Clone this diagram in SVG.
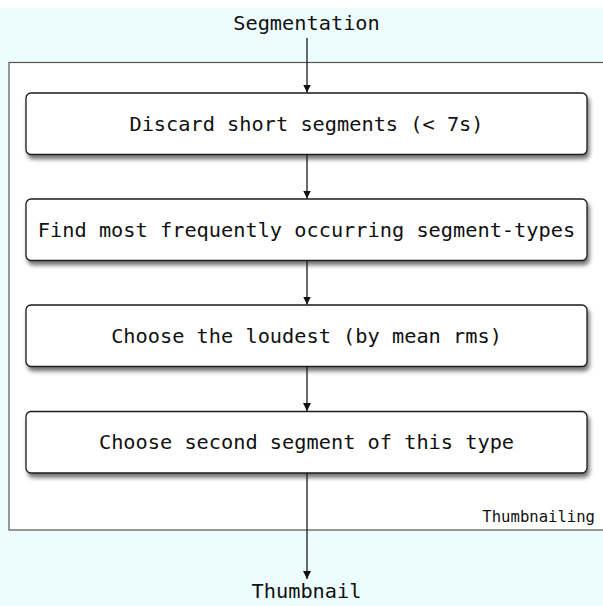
<svg xmlns="http://www.w3.org/2000/svg" width="603" height="606" viewBox="0 0 603 606">
  <style>
    .band { fill: #edfdfe; }
    .frame { fill: #ffffff; stroke: #555555; stroke-width: 1.2; }
    .box { fill: #ffffff; stroke: #1a1a1a; stroke-width: 1.3; }
    .label { font-family: "DejaVu Sans Mono", "Liberation Mono", monospace; font-size: 20.3px; fill: #111111; text-anchor: middle; }
    .small { font-family: "DejaVu Sans Mono", "Liberation Mono", monospace; font-size: 15.6px; fill: #111111; text-anchor: end; }
    .edge { stroke: #1a1a1a; stroke-width: 1.3; fill: none; marker-end: url(#arrow); }
  </style>
  <defs>
    <marker id="arrow" viewBox="0 0 8 10" refX="8" refY="5" markerWidth="8" markerHeight="10" markerUnits="userSpaceOnUse" orient="auto">
      <path d="M0,1 L8,5 L0,9 Z" fill="#111111"/>
    </marker>
    <filter id="shadow" x="-5%" y="-20%" width="112%" height="150%">
      <feGaussianBlur in="SourceAlpha" stdDeviation="2.2"/>
      <feOffset dx="1.5" dy="3.5" result="b"/>
      <feComponentTransfer><feFuncA type="linear" slope="0.55"/></feComponentTransfer>
      <feMerge><feMergeNode/><feMergeNode in="SourceGraphic"/></feMerge>
    </filter>
  </defs>

  <!-- background bands -->
  <rect x="0" y="0" width="603" height="606" fill="#ffffff"/>
  <rect class="band" x="0" y="8" width="603" height="598"/>

  <!-- process frame -->
  <g id="thumbnailing">
    <rect class="frame" x="9" y="62.5" width="600" height="467.5"/>
    <text class="small" x="595" y="522">Thumbnailing</text>
  </g>

  <g id="segmentation">
    <text class="label" x="306.5" y="30">Segmentation</text>
  </g>

  <g id="discard">
    <rect class="box" x="26" y="93" width="561" height="61.5" rx="5" filter="url(#shadow)"/>
    <text class="label" x="306.5" y="131">Discard short segments (&lt; 7s)</text>
  </g>

  <g id="find">
    <rect class="box" x="26" y="199" width="561" height="61.5" rx="5" filter="url(#shadow)"/>
    <text class="label" x="306.5" y="237">Find most frequently occurring segment-types</text>
  </g>

  <g id="loudest">
    <rect class="box" x="26" y="305" width="561" height="61.5" rx="5" filter="url(#shadow)"/>
    <text class="label" x="306.5" y="343">Choose the loudest (by mean rms)</text>
  </g>

  <g id="second">
    <rect class="box" x="26" y="411.5" width="561" height="61.5" rx="5" filter="url(#shadow)"/>
    <text class="label" x="306.5" y="449">Choose second segment of this type</text>
  </g>

  <g id="thumbnail">
    <text class="label" x="306.5" y="598">Thumbnail</text>
  </g>

  <!-- connectors -->
  <g id="connectors">
    <line class="edge" x1="307" y1="38" x2="307" y2="92.5"/>
    <line class="edge" x1="307" y1="154.5" x2="307" y2="198.5"/>
    <line class="edge" x1="307" y1="260.5" x2="307" y2="304.5"/>
    <line class="edge" x1="307" y1="366.5" x2="307" y2="411"/>
    <line class="edge" x1="307" y1="473" x2="307" y2="579"/>
  </g>
</svg>
